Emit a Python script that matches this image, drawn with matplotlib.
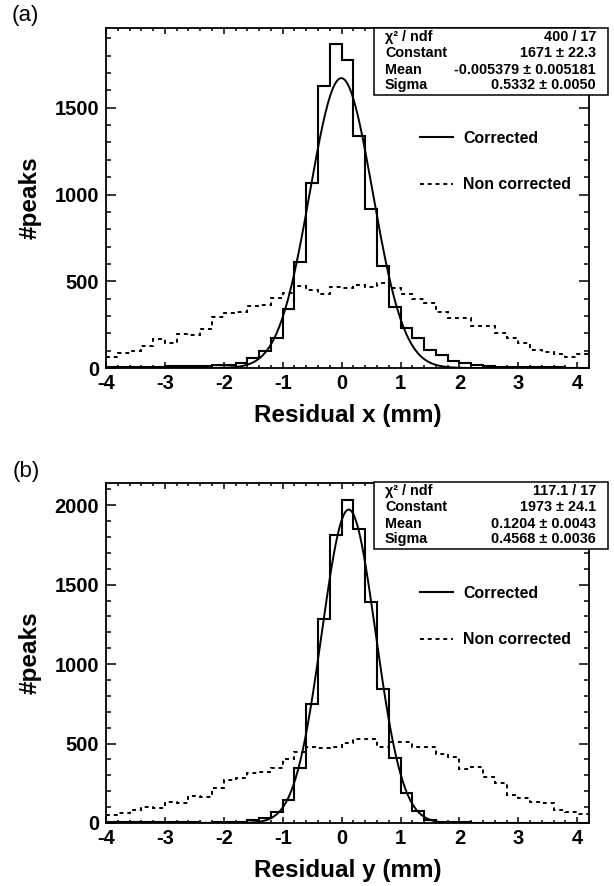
import numpy as np
import matplotlib
matplotlib.use("Agg")
import matplotlib.pyplot as plt
from matplotlib.patches import Rectangle
from matplotlib.ticker import MultipleLocator

plt.rcParams['font.family'] = ['Liberation Sans', 'DejaVu Sans']
plt.rcParams['axes.unicode_minus'] = False

# bin edges shared by both panels (-4 .. 4.2, width 0.2)
edges = np.round(np.arange(-4.0, 4.2001, 0.2), 2)

# (a) residual x
corr_x = [3, 4, 5, 6, 8, 10, 12, 14, 12, 15, 17, 31, 56, 100, 171, 338, 613, 1069, 1623,
          1869, 1773, 1338, 919, 590, 354, 229, 171, 104, 75, 42, 27, 17, 12, 8, 6, 5, 4, 3, 3, 2, 2]
noncorr_x = [65, 85, 98, 127, 167, 146, 194, 190, 225, 292, 319, 325, 358, 363, 402, 435, 473, 450, 427, 465,
             460, 479, 465, 492, 460, 427, 396, 373, 325, 290, 287, 244, 242, 200, 171, 142, 104, 94, 79, 65, 81]
fit_x = {"chi2": "400 / 17", "const": (1671, 22.3), "mean": (-0.005379, 0.005181), "sigma": (0.5332, 0.0050)}

# (b) residual y
corr_y = [8, 4, 4, 5, 6, 8, 5, 4, 3, 4, 5, 8, 19, 29, 71, 145, 348, 746, 1287,
          1811, 2031, 1849, 1392, 843, 407, 191, 75, 19, 8, 5, 4, 3, 3, 2, 2, 2, 2, 1, 1, 1, 1]
noncorr_y = [50, 61, 82, 103, 92, 134, 124, 170, 161, 218, 270, 281, 312, 323, 344, 403, 449, 476, 470, 480,
             501, 528, 528, 480, 507, 507, 480, 480, 432, 413, 338, 354, 291, 249, 176, 155, 134, 124, 82, 71, 55]
fit_y = {"chi2": "117.1 / 17", "const": (1973, 24.1), "mean": (0.1204, 0.0043), "sigma": (0.4568, 0.0036)}

panels = [
    ("(a)", "Residual x (mm)", corr_x, noncorr_x, fit_x, 1960, "-0.005379 \u00b1 0.005181"),
    ("(b)", "Residual y (mm)", corr_y, noncorr_y, fit_y, 2140, None),
]

fig = plt.figure(figsize=(6.14, 8.86), dpi=100)
W, H = 614.0, 886.0

# axes boxes in pixels: (left, top, right, bottom)
ax_px = [(106, 28, 589, 368), (106, 483, 589, 823)]
box_px = [(374, 28, 608, 95), (374, 482, 608, 549)]
tag_px = [(12, 16), (13, 472)]

for (tag, xlabel, corr, noncorr, fit, ymax, mean_txt), (l, t, r, b), (bl, bt, br, bb), (tx, ty) in zip(
        panels, ax_px, box_px, tag_px):
    ax = fig.add_axes([l / W, 1 - b / H, (r - l) / W, (b - t) / H])

    ax.stairs(noncorr, edges, baseline=None, color="black", lw=1.4, ls=(0, (2.0, 2.0)), label="Non corrected")
    ax.stairs(corr, edges, baseline=None, color="black", lw=1.5, label="Corrected")
    xs = np.linspace(-4, 4.2, 600)
    c, m, s = fit["const"][0], fit["mean"][0], fit["sigma"][0]
    ax.plot(xs, c * np.exp(-0.5 * ((xs - m) / s) ** 2), color="black", lw=1.4)

    ax.set_xlim(-4, 4.2)
    ax.set_ylim(0, ymax)
    ax.xaxis.set_major_locator(MultipleLocator(1))
    ax.xaxis.set_minor_locator(MultipleLocator(0.2))
    ax.yaxis.set_major_locator(MultipleLocator(500))
    ax.yaxis.set_minor_locator(MultipleLocator(100))
    ax.tick_params(which="both", direction="in", top=True, right=True, width=1.1)
    ax.tick_params(axis="y", which="major", length=7, pad=5)
    ax.tick_params(axis="y", which="minor", length=3.5)
    ax.tick_params(axis="x", which="major", length=4.5, pad=4)
    ax.tick_params(axis="x", which="minor", length=2.2)
    for lab in ax.get_xticklabels() + ax.get_yticklabels():
        lab.set_fontweight("bold")
        lab.set_fontsize(14.5)
    for sp in ax.spines.values():
        sp.set_linewidth(1.3)

    ax.set_xlabel(xlabel, fontsize=17.5, fontweight="bold", labelpad=8)
    ax.set_ylabel("#peaks", fontsize=17.5, fontweight="bold", labelpad=9)

    handles, labels = ax.get_legend_handles_labels()
    ax.legend(handles[::-1], labels[::-1], loc="center left", bbox_to_anchor=(0.65, 0.607),
              frameon=False, handlelength=2.1, handletextpad=0.65,
              labelspacing=2.0, borderpad=0, borderaxespad=0,
              prop={"weight": "bold", "size": 11.4})

    # stats box
    fig.add_artist(Rectangle((bl / W, 1 - bb / H), (br - bl) / W, (bb - bt) / H,
                             transform=fig.transFigure, facecolor="white", edgecolor="black", lw=1.1))
    if mean_txt is None:
        mean_txt = f"{fit['mean'][0]:.4f} \u00b1 {fit['mean'][1]:.4f}"
    rows = [("\u03c7\u00b2 / ndf", fit["chi2"]),
            ("Constant", f"{fit['const'][0]} \u00b1 {fit['const'][1]:.1f}"),
            ("Mean", mean_txt),
            ("Sigma", f"{fit['sigma'][0]:.4f} \u00b1 {fit['sigma'][1]:.4f}")]
    offsets = [9, 25, 42, 57]
    for (name, val), off in zip(rows, offsets):
        fig.text((bl + 11) / W, 1 - (bt + off) / H, name, ha="left", va="center",
                 fontsize=10.4, fontweight="bold")
        fig.text((br - 12) / W, 1 - (bt + off) / H, val, ha="right", va="center",
                 fontsize=10.4, fontweight="bold")

    fig.text(tx / W, 1 - ty / H, tag, ha="left", va="center", fontsize=16)

fig.savefig("out.png", dpi=100)
